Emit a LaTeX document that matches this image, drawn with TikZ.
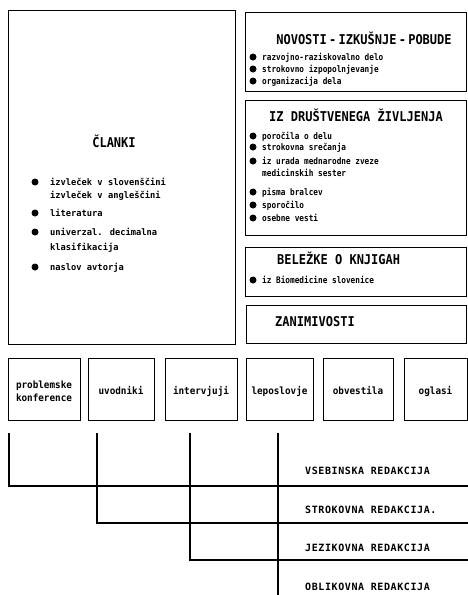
\documentclass[tikz,border=0pt]{standalone}
\usepackage{fontspec}
\setmainfont{DejaVu Sans Mono}
\newfontfamily\bodyfont[FakeStretch=0.97]{DejaVu Sans Mono}
\newfontfamily\smallfont[FakeStretch=0.86]{DejaVu Sans Mono}
\newfontfamily\cellfont[FakeStretch=0.93]{DejaVu Sans Mono}
\newfontfamily\titlefont[FakeStretch=0.89]{DejaVu Sans Mono}
\newfontfamily\redfont[LetterSpace=6]{DejaVu Sans Mono}
\begin{document}
\begin{tikzpicture}[x=1pt,y=-1pt,
  box/.style={draw, line width=1.3pt, inner sep=0pt, anchor=north west},
  bul/.style={circle, fill, inner sep=0pt, minimum size=7pt},
  itemA/.style={anchor=base west, inner sep=0pt, font=\bodyfont\bfseries\fontsize{9}{11}\selectfont},
  itemB/.style={anchor=base west, inner sep=0pt, font=\smallfont\bfseries\fontsize{9}{11}\selectfont},
  ttl/.style={inner sep=0pt, text height=9.5pt, text depth=0pt, font=\titlefont\bfseries\fontsize{13.5}{16}\selectfont},
  cell/.style={align=center, inner sep=0pt, font=\cellfont\bfseries\fontsize{10}{13}\selectfont},
  red/.style={anchor=base west, inner sep=0pt, font=\redfont\bfseries\fontsize{10}{12}\selectfont},
  conn/.style={line width=1.2pt}]
\useasboundingbox (0,0) rectangle (468,595);

% ---------- big box ----------
\node[box, minimum width=227pt, minimum height=334pt] (clanki) at (8,10) {};
\node[ttl] (clankiT) at (114,143) {ČLANKI};
\node[bul] (ca1) at (35,182) {};
\node[itemA] (ct1) at (50,185.5) {izvleček v slovenščini};
\node[itemA] (ct2) at (50,198.5) {izvleček v angleščini};
\node[bul] (ca2) at (35,213) {};
\node[itemA] (ct3) at (50,216.5) {literatura};
\node[bul] (ca3) at (35,232) {};
\node[itemA] (ct4) at (50,235.5) {univerzal. decimalna};
\node[itemA] (ct5) at (50,250.5) {klasifikacija};
\node[bul] (ca4) at (35,267) {};
\node[itemA] (ct6) at (50,270.5) {naslov avtorja};

% ---------- right boxes ----------
\node[box, minimum width=221pt, minimum height=79pt] (nov) at (245,12) {};
\node[ttl] (novT) at (364,40) {NOVOSTI\,-\,IZKUŠNJE\,-\,POBUDE};
\node[bul] (na1) at (253,57) {};
\node[itemB] (nt1) at (262,60) {razvojno-raziskovalno delo};
\node[bul] (na2) at (253,69) {};
\node[itemB] (nt2) at (262,72) {strokovno izpopolnjevanje};
\node[bul] (na3) at (253,81) {};
\node[itemB] (nt3) at (262,84) {organizacija dela};

\node[box, minimum width=221pt, minimum height=135pt] (dru) at (245,100) {};
\node[ttl] (druT) at (356,117) {IZ DRUŠTVENEGA ŽIVLJENJA};
\node[bul] (da1) at (253,136) {};
\node[itemB] (dt1) at (262,139) {poročila o delu};
\node[bul] (da2) at (253,147) {};
\node[itemB] (dt2) at (262,150) {strokovna srečanja};
\node[bul] (da3) at (253,161) {};
\node[itemB] (dt3) at (262,164) {iz urada mednarodne zveze};
\node[itemB] (dt4) at (262,176) {medicinskih sester};
\node[bul] (da5) at (253,192) {};
\node[itemB] (dt5) at (262,195) {pisma bralcev};
\node[bul] (da6) at (253,205) {};
\node[itemB] (dt6) at (262,208) {sporočilo};
\node[bul] (da7) at (253,218) {};
\node[itemB] (dt7) at (262,221) {osebne vesti};

\node[box, minimum width=221pt, minimum height=49pt] (bel) at (245,247) {};
\node[ttl, anchor=west] (belT) at (277,260) {BELEŽKE O KNJIGAH};
\node[bul] (ba1) at (253,280) {};
\node[itemB] (bt1) at (262,283) {iz Biomedicine slovenice};

\node[box, minimum width=220pt, minimum height=38pt] (zan) at (246,305) {};
\node[ttl, anchor=west] (zanT) at (275,322) {ZANIMIVOSTI};

% ---------- bottom row ----------
\node[box, minimum width=72pt, minimum height=62pt] (b1) at (8,358) {};
\node[cell] (b1t) at (44,391) {problemske\\konference};
\node[box, minimum width=66pt, minimum height=62pt] (b2) at (88,358) {};
\node[cell, text height=7pt, text depth=2pt] (b2t) at (121,392) {uvodniki};
\node[box, minimum width=72pt, minimum height=62pt] (b3) at (165,358) {};
\node[cell, text height=7pt, text depth=2pt] (b3t) at (201,392) {intervjuji};
\node[box, minimum width=67pt, minimum height=62pt] (b4) at (246,358) {};
\node[cell, text height=7pt, text depth=2pt] (b4t) at (279.5,392) {leposlovje};
\node[box, minimum width=70pt, minimum height=62pt] (b5) at (323,358) {};
\node[cell, text height=7pt, text depth=2pt] (b5t) at (358,392) {obvestila};
\node[box, minimum width=63pt, minimum height=62pt] (b6) at (404,358) {};
\node[cell, text height=7pt, text depth=2pt] (b6t) at (435.5,392) {oglasi};

% ---------- editorial lines ----------
\coordinate (v1) at (9,433);
\coordinate (v2) at (97,433);
\coordinate (v3) at (190,433);
\coordinate (v4) at (278,433);
\coordinate (h1) at (468,486);
\coordinate (h2) at (468,523);
\coordinate (h3) at (468,560);
\coordinate (v4b) at (278,595);
\draw[conn] (v1) |- (h1);
\draw[conn] (v2) |- (h2);
\draw[conn] (v3) |- (h3);
\draw[line width=1.6pt] (v4) -- (v4b);

\node[red] (r1) at (305,474) {VSEBINSKA REDAKCIJA};
\node[red] (r2) at (305,513) {STROKOVNA REDAKCIJA.};
\node[red] (r3) at (305,551) {JEZIKOVNA REDAKCIJA};
\node[red] (r4) at (305,590) {OBLIKOVNA REDAKCIJA};
\end{tikzpicture}
\end{document}
